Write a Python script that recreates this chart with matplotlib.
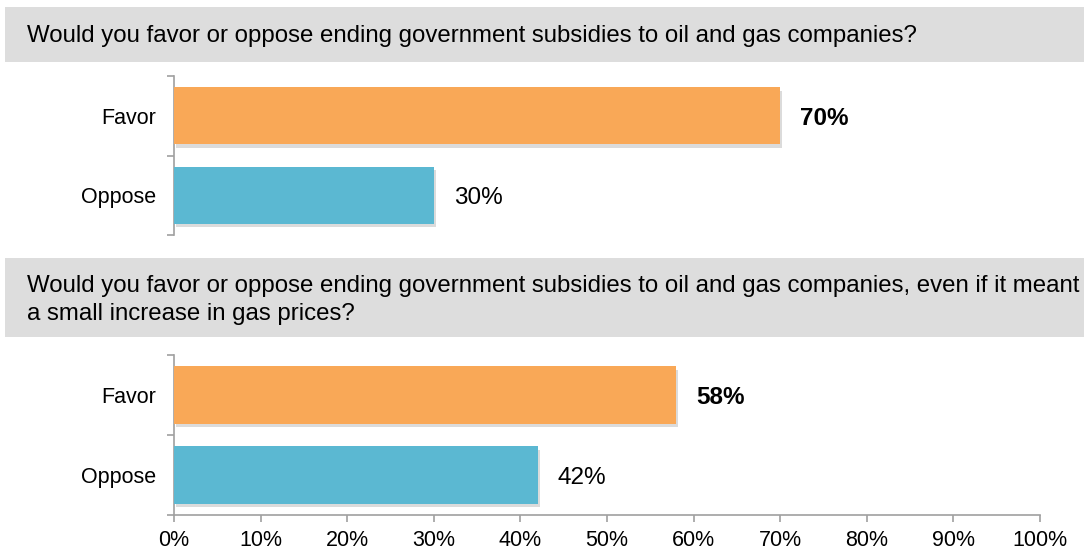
import matplotlib.pyplot as plt
from matplotlib.patches import Rectangle
import matplotlib.patheffects as pe

plt.rcParams["font.family"] = ["Liberation Sans", "DejaVu Sans"]

# Data
categories = ["Favor", "Oppose"]
q1_values = [70, 30]
q2_values = [58, 42]
questions = [
    "Would you favor or oppose ending government subsidies to oil and gas companies?",
    "Would you favor or oppose ending government subsidies to oil and gas companies, even if it meant\n"
    "a small increase in gas prices?",
]
bar_colors = ["#F9A857", "#5BB8D2"]
xticks = list(range(0, 101, 10))

W, H = 1084, 550
fig = plt.figure(figsize=(W / 100, H / 100), dpi=100)

def fy(py):
    return 1 - py / H

# Gray question boxes
for (y0, y1) in [(7, 62), (258, 337)]:
    fig.add_artist(Rectangle((5 / W, fy(y1)), 1, (y1 - y0) / H,
                             transform=fig.transFigure, facecolor="#DDDDDD",
                             edgecolor="none", zorder=0))
fig.text(27 / W, fy(36), questions[0], fontsize=17.3, va="center", ha="left")
fig.text(27 / W, fy(300), questions[1], fontsize=17.3, va="center", ha="left",
         linespacing=1.3)

left = 174 / W
width = (1040 - 174) / W
ax1 = fig.add_axes([left, fy(235), width, 159 / H])
ax2 = fig.add_axes([left, fy(515), width, 160 / H])

shadow = [pe.SimplePatchShadow(offset=(1.5, -2.5), shadow_rgbFace="#999999", alpha=0.35), pe.Normal()]

for ax, vals, show_x in [(ax1, q1_values, False), (ax2, q2_values, True)]:
    ypos = [0, 1]
    bars = ax.barh(ypos, vals, height=0.72, color=bar_colors, zorder=3)
    for b in bars:
        b.set_path_effects(shadow)
    ax.set_ylim(1.5, -0.5)
    ax.set_xlim(0, 100)
    for i, v in enumerate(vals):
        ax.text(v + 2.3, i, f"{v}%", va="center_baseline", ha="left", fontsize=17.5,
                fontweight="bold" if i == 0 else "normal")
    ax.set_yticks(ypos)
    ax.set_yticklabels(categories, fontsize=15.5)
    ax.set_yticks([-0.5, 0.5, 1.5], minor=True)
    ax.tick_params(axis="y", which="major", length=0, pad=13)
    ax.tick_params(axis="y", which="minor", length=5, color="#A0A0A0", width=1.2)
    for s in ["top", "right"]:
        ax.spines[s].set_visible(False)
    ax.spines["left"].set_color("#A0A0A0")
    ax.spines["left"].set_linewidth(1.2)
    if show_x:
        ax.spines["bottom"].set_color("#A0A0A0")
        ax.spines["bottom"].set_linewidth(1.2)
        ax.set_xticks(xticks)
        ax.set_xticklabels([f"{t}%" for t in xticks], fontsize=15.5)
        ax.tick_params(axis="x", length=5, color="#A0A0A0", width=1.2, pad=6)
    else:
        ax.spines["bottom"].set_visible(False)
        ax.set_xticks([])

fig.savefig("out.png", dpi=100)
